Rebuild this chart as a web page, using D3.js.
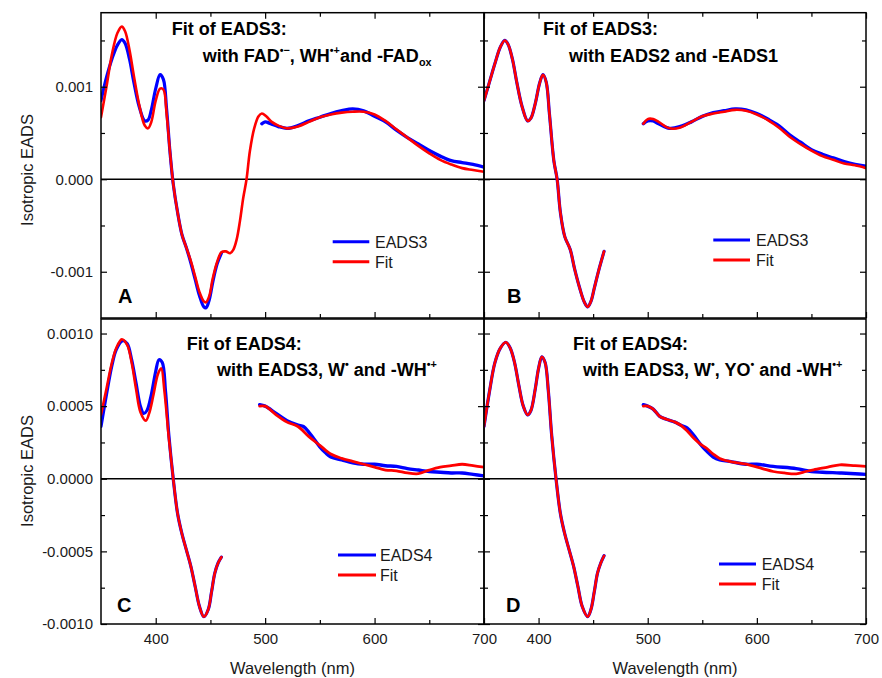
<!DOCTYPE html>
<html>
<head>
<meta charset="utf-8">
<script src="https://cdn.jsdelivr.net/npm/d3@7"></script>
<style>
  body { margin: 0; background: #fff; }
  svg { display: block; font-family: "Liberation Sans", Arial, sans-serif; }
</style>
</head>
<body>
<svg id="chart" width="882" height="678"></svg>
<script>
// ---------------- DATA ----------------
// Panel A: EADS3 (measured) and fit with FAD•−, WH•+ and -FADox
const aBlueUV = [[350,0.00085],[355,0.00110],[360,0.00130],[365,0.00145],[369,0.00151],[372,0.00147],[376,0.00130],[380,0.00105],[385,0.00078],[390,0.00063],[393,0.00064],[396,0.00075],[400,0.00098],[404,0.00113],[407,0.00108],[410,0.00075],[413,0.00030],[416,-0.00005],[420,-0.00036],[424,-0.00060],[428,-0.00074],[432,-0.00090],[436,-0.00108],[440,-0.00126],[444,-0.00138],[446,-0.00139],[449,-0.00130],[452,-0.00112],[456,-0.00092],[460,-0.00080]];
const aBlueVis = [[497,0.00060],[500,0.00062],[505,0.00060],[512,0.00057],[520,0.00055],[530,0.00058],[540,0.00063],[550,0.00067],[560,0.00071],[570,0.00074],[580,0.00076],[590,0.00074],[600,0.00068],[610,0.00062],[620,0.00053],[630,0.00045],[640,0.00038],[650,0.00031],[660,0.00025],[670,0.00020],[680,0.00018],[690,0.00016],[700,0.00013]];
const aRed = [[350,0.00067],[355,0.00100],[360,0.00135],[365,0.00158],[369,0.00165],[372,0.00160],[376,0.00140],[380,0.00112],[385,0.00080],[390,0.00058],[393,0.00055],[396,0.00062],[400,0.00085],[404,0.00098],[407,0.00097],[410,0.00070],[413,0.00030],[416,-0.00005],[420,-0.00036],[424,-0.00060],[428,-0.00074],[432,-0.00088],[436,-0.00105],[440,-0.00122],[444,-0.00132],[446,-0.00133],[449,-0.00126],[452,-0.00108],[456,-0.00090],[460,-0.00079],[464,-0.00078],[468,-0.00080],[471,-0.00076],[474,-0.00065],[477,-0.00045],[480,-0.00020],[483,0.00000],[486,0.00030],[490,0.00055],[494,0.00068],[497,0.00071],[501,0.00068],[506,0.00062],[512,0.00058],[520,0.00055],[530,0.00057],[540,0.00062],[550,0.00067],[560,0.00070],[570,0.00072],[580,0.00073],[590,0.00073],[600,0.00070],[610,0.00063],[620,0.00054],[630,0.00045],[640,0.00036],[650,0.00028],[660,0.00021],[670,0.00016],[680,0.00012],[690,0.00010],[700,0.00008]];

// Panel B: EADS3 and fit with EADS2 and -EADS1
const bUV = [[350,0.00085],[355,0.00105],[360,0.00125],[365,0.00143],[369,0.00150],[372,0.00146],[376,0.00130],[380,0.00105],[385,0.00078],[390,0.00063],[393,0.00066],[397,0.00082],[401,0.00104],[404,0.00113],[407,0.00105],[410,0.00070],[414,0.00020],[417,0.00000],[420,-0.00036],[424,-0.00062],[429,-0.00076],[433,-0.00097],[438,-0.00119],[442,-0.00133],[445,-0.00138],[448,-0.00132],[451,-0.00118],[455,-0.00099],[460,-0.00078]];
const bBlueVis = [[496,0.00060],[500,0.00063],[505,0.00063],[510,0.00060],[520,0.00055],[530,0.00057],[540,0.00062],[550,0.00068],[560,0.00072],[570,0.00074],[580,0.00076],[590,0.00075],[600,0.00071],[610,0.00065],[620,0.00058],[630,0.00048],[640,0.00040],[650,0.00032],[660,0.00027],[670,0.00023],[680,0.00019],[690,0.00016],[700,0.00014]];
const bRedVis = [[496,0.00060],[500,0.00065],[505,0.00065],[510,0.00062],[520,0.00055],[530,0.00056],[540,0.00062],[550,0.00068],[560,0.00071],[570,0.00073],[580,0.00075],[590,0.00074],[600,0.00070],[610,0.00064],[620,0.00056],[630,0.00046],[640,0.00038],[650,0.00031],[660,0.00025],[670,0.00021],[680,0.00017],[690,0.00015],[700,0.00012]];

// Panel C: EADS4 and fit with EADS3, W• and -WH•+
const cBlueUV = [[350,0.00036],[355,0.00058],[360,0.00078],[364,0.00089],[370,0.00095],[374,0.00093],[378,0.00082],[382,0.00066],[386,0.00050],[389,0.00045],[392,0.00047],[396,0.00058],[400,0.00074],[403,0.00082],[406,0.00080],[409,0.00060],[412,0.00030],[416,0.00000],[420,-0.00024],[424,-0.00038],[428,-0.00049],[432,-0.00060],[436,-0.00074],[440,-0.00088],[444,-0.00095],[448,-0.00090],[451,-0.00078],[454,-0.00065],[457,-0.00058],[460,-0.00054]];
const cRedUV = [[350,0.00044],[355,0.00062],[360,0.00080],[364,0.00090],[369,0.00096],[374,0.00092],[378,0.00080],[382,0.00062],[386,0.00046],[391,0.00040],[394,0.00045],[398,0.00058],[402,0.00072],[405,0.00076],[408,0.00060],[412,0.00028],[416,0.00000],[420,-0.00024],[424,-0.00038],[428,-0.00049],[432,-0.00060],[436,-0.00074],[440,-0.00088],[444,-0.00095],[448,-0.00090],[451,-0.00078],[454,-0.00065],[457,-0.00058],[460,-0.00054]];
const cBlueVis = [[495,0.00051],[500,0.00050],[510,0.00045],[520,0.00040],[530,0.00037],[535,0.00036],[540,0.00032],[545,0.00027],[550,0.00022],[555,0.00018],[560,0.00015],[570,0.00013],[580,0.00011],[590,0.00010],[600,0.00010],[610,0.00009],[620,0.000085],[630,0.00007],[640,0.00006],[650,0.00005],[660,0.000045],[670,0.00004],[680,0.00004],[690,0.00003],[700,0.00002]];
const cRedVis = [[495,0.00050],[500,0.00050],[510,0.00044],[520,0.00039],[530,0.00036],[540,0.00029],[550,0.00023],[560,0.00017],[570,0.00014],[580,0.00012],[590,0.00010],[600,0.00008],[610,0.00006],[620,0.000055],[630,0.00004],[640,0.000035],[650,0.00006],[660,0.00008],[670,0.00009],[680,0.00010],[690,0.00009],[700,0.00008]];

// Panel D: EADS4 and fit with EADS3, W•, YO• and -WH•+
const dUV = [[350,0.00036],[355,0.00060],[360,0.00080],[365,0.00090],[370,0.00094],[374,0.00090],[378,0.00080],[382,0.00064],[386,0.00050],[390,0.00044],[393,0.00047],[397,0.00062],[400,0.00076],[403,0.00084],[406,0.00080],[409,0.00060],[412,0.00030],[416,0.00000],[420,-0.00024],[424,-0.00038],[428,-0.00049],[432,-0.00060],[436,-0.00074],[440,-0.00088],[445,-0.00095],[448,-0.00090],[451,-0.00078],[454,-0.00065],[457,-0.00058],[460,-0.00053]];
const dBlueVis = [[496,0.00051],[500,0.00050],[505,0.00048],[511,0.00043],[517,0.00041],[525,0.00039],[530,0.00037],[536,0.00035],[542,0.00030],[548,0.00024],[554,0.00019],[560,0.00015],[566,0.00013],[575,0.00012],[590,0.00010],[600,0.00010],[615,0.000085],[636,0.00007],[650,0.00005],[660,0.000045],[676,0.00004],[690,0.000035],[700,0.00003]];
const dRedVis = [[496,0.00050],[500,0.00050],[505,0.00048],[511,0.00043],[517,0.00041],[525,0.00039],[530,0.00037],[536,0.00033],[542,0.00028],[548,0.00024],[554,0.00021],[560,0.00017],[566,0.00014],[575,0.00012],[590,0.00010],[605,0.00007],[615,0.00005],[625,0.00004],[636,0.000034],[645,0.00005],[652,0.000062],[665,0.00008],[676,0.000096],[690,0.00009],[700,0.000085]];

// Axis ticks and labels
const xDomain = [350, 700];
const xMajorTicks = [400, 500, 600, 700];
const xMinorTicks = [450, 550, 650];
const topDomain = [-0.0015, 0.0018];
const topMajorTicks = [-0.001, 0, 0.001];
const topTickLabels = ["-0.001", "0.000", "0.001"];
const topMinorTicks = [-0.0005, 0.0005, 0.0015];
const botDomain = [-0.001, 0.0011];
const botMajorTicks = [-0.001, -0.0005, 0, 0.0005, 0.001];
const botTickLabels = ["-0.0010", "-0.0005", "0.0000", "0.0005", "0.0010"];
const botMinorTicks = [-0.00075, -0.00025, 0.00025, 0.00075];

const BLUE = "#0000ff", RED = "#ff0000";

// ---------------- LAYOUT ----------------
const svg = d3.select("#chart");
const colX = [[101, 484], [484, 866]];
const rowY = [[12.7, 318], [319, 624]];

const panels = [
  { row: 0, col: 0, letter: "A", legendName: "EADS3",
    series: [{d: aBlueUV, c: BLUE, w: 3.2}, {d: aBlueVis, c: BLUE, w: 3.4}, {d: aRed, c: RED, w: 2.6}],
    title1: {x: 171.7, y: 35}, title2: {x: 202.7, y: 62, parts: [["with FAD"],["•−","sup"],[", WH"],["•+","sup"],["and -FAD"],["ox","sub"]]},
    legend: {x0: 332.7, x1: 369.3, yb: 241.7, yr: 261.7, tx: 375}, letterPos: {x: 118, y: 303}, t1: "Fit of EADS3:" },
  { row: 0, col: 1, letter: "B", legendName: "EADS3",
    series: [{d: bUV, c: BLUE, w: 3.2}, {d: bBlueVis, c: BLUE, w: 3.4}, {d: bUV, c: RED, w: 2.6}, {d: bRedVis, c: RED, w: 2.6}],
    title1: {x: 543, y: 35}, title2: {x: 569, y: 62, parts: [["with EADS2 and -EADS1"]]},
    legend: {x0: 713.3, x1: 750, yb: 240, yr: 260, tx: 756}, letterPos: {x: 507, y: 303}, t1: "Fit of EADS3:" },
  { row: 1, col: 0, letter: "C", legendName: "EADS4",
    series: [{d: cBlueUV, c: BLUE, w: 3.2}, {d: cBlueVis, c: BLUE, w: 3.4}, {d: cRedUV, c: RED, w: 2.6}, {d: cRedVis, c: RED, w: 2.8}],
    title1: {x: 186.7, y: 350}, title2: {x: 217, y: 376, parts: [["with EADS3, W"],["•","sup"],[" and -WH"],["•+","sup"]]},
    legend: {x0: 338, x1: 376, yb: 555, yr: 575, tx: 380}, letterPos: {x: 117, y: 612}, t1: "Fit of EADS4:" },
  { row: 1, col: 1, letter: "D", legendName: "EADS4",
    series: [{d: dUV, c: BLUE, w: 3.2}, {d: dBlueVis, c: BLUE, w: 3.4}, {d: dUV, c: RED, w: 2.6}, {d: dRedVis, c: RED, w: 2.8}],
    title1: {x: 573, y: 350}, title2: {x: 583, y: 376, parts: [["with EADS3, W"],["•","sup"],[", YO"],["•","sup"],[" and -WH"],["•+","sup"]]},
    legend: {x0: 719, x1: 756, yb: 564, yr: 584, tx: 761.7}, letterPos: {x: 506, y: 612}, t1: "Fit of EADS4:" }
];

const defs = svg.append("defs");

panels.forEach((p, i) => {
  const [xl, xr] = colX[p.col];
  const [yt, yb] = rowY[p.row];
  const x = d3.scaleLinear().domain(xDomain).range([xl, xr]);
  const y = d3.scaleLinear().domain(p.row === 0 ? topDomain : botDomain).range([yb, yt]);
  const g = svg.append("g");

  defs.append("clipPath").attr("id", "clip" + i)
    .append("rect").attr("x", xl).attr("y", yt).attr("width", xr - xl).attr("height", yb - yt);

  // zero line
  g.append("line").attr("x1", xl).attr("x2", xr).attr("y1", y(0)).attr("y2", y(0))
    .attr("stroke", "#000").attr("stroke-width", 1.3);

  // data lines
  const line = d3.line().x(d => x(d[0])).y(d => y(d[1])).curve(d3.curveCatmullRom.alpha(0.5));
  const dg = g.append("g").attr("clip-path", `url(#clip${i})`);
  p.series.forEach(s => {
    dg.append("path").datum(s.d).attr("d", line).attr("fill", "none")
      .attr("stroke", s.c).attr("stroke-width", s.w).attr("stroke-linejoin", "round").attr("stroke-linecap", "round");
  });

  // axes (inward ticks)
  const fontSize = 15;
  const styleAxis = (sel) => {
    sel.select(".domain").remove();
    sel.selectAll("line").attr("stroke", "#000").attr("stroke-width", 1.2);
    sel.selectAll("text").attr("font-size", fontSize).attr("fill", "#1a1a1a")
      .attr("font-family", "'Liberation Sans', Arial, sans-serif");
  };
  const majY = p.row === 0 ? topMajorTicks : botMajorTicks;
  const minY = p.row === 0 ? topMinorTicks : botMinorTicks;
  const labY = p.row === 0 ? topTickLabels : botTickLabels;

  // bottom
  g.append("g").attr("transform", `translate(0,${yb})`)
    .call(d3.axisBottom(x).tickValues(xMajorTicks).tickSize(-6).tickPadding(9)
      .tickFormat(p.row === 1 ? (d => String(d)) : () => ""))
    .call(styleAxis);
  g.append("g").attr("transform", `translate(0,${yb})`)
    .call(d3.axisBottom(x).tickValues(xMinorTicks).tickSize(-4).tickFormat(() => ""))
    .call(styleAxis);
  // top (only top row)
  if (p.row === 0) {
    g.append("g").attr("transform", `translate(0,${yt})`)
      .call(d3.axisTop(x).tickValues(xMajorTicks).tickSize(-6).tickFormat(() => ""))
      .call(styleAxis);
    g.append("g").attr("transform", `translate(0,${yt})`)
      .call(d3.axisTop(x).tickValues(xMinorTicks).tickSize(-4).tickFormat(() => ""))
      .call(styleAxis);
  }
  // left
  g.append("g").attr("transform", `translate(${xl},0)`)
    .call(d3.axisLeft(y).tickValues(majY).tickSize(-6).tickPadding(8)
      .tickFormat(p.col === 0 ? ((d, k) => labY[k]) : () => ""))
    .call(styleAxis);
  g.append("g").attr("transform", `translate(${xl},0)`)
    .call(d3.axisLeft(y).tickValues(minY).tickSize(-4).tickFormat(() => ""))
    .call(styleAxis);
  // right
  g.append("g").attr("transform", `translate(${xr},0)`)
    .call(d3.axisRight(y).tickValues(majY).tickSize(-6).tickFormat(() => ""))
    .call(styleAxis);
  g.append("g").attr("transform", `translate(${xr},0)`)
    .call(d3.axisRight(y).tickValues(minY).tickSize(-4).tickFormat(() => ""))
    .call(styleAxis);

  // frame
  g.append("rect").attr("x", xl).attr("y", yt).attr("width", xr - xl).attr("height", yb - yt)
    .attr("fill", "none").attr("stroke", "#000").attr("stroke-width", 1.5);

  // titles
  const tf = 18;
  g.append("text").attr("x", p.title1.x).attr("y", p.title1.y)
    .attr("font-size", tf).attr("font-weight", "bold").attr("fill", "#000").text(p.t1);
  const t2 = g.append("text").attr("x", p.title2.x).attr("y", p.title2.y)
    .attr("font-size", tf).attr("font-weight", "bold").attr("fill", "#000");
  p.title2.parts.forEach(part => {
    const ts = t2.append("tspan").text(part[0]);
    if (part[1] === "sup") ts.attr("font-size", tf * 0.6).attr("baseline-shift", "75%");
    if (part[1] === "sub") ts.attr("font-size", tf * 0.6).attr("baseline-shift", "-35%");
  });

  // panel letter
  g.append("text").attr("x", p.letterPos.x).attr("y", p.letterPos.y)
    .attr("font-size", 20).attr("font-weight", "bold").attr("fill", "#000").text(p.letter);

  // legend
  const L = p.legend;
  [[L.yb, BLUE, p.legendName], [L.yr, RED, "Fit"]].forEach(([ly, c, name]) => {
    g.append("line").attr("x1", L.x0).attr("x2", L.x1).attr("y1", ly).attr("y2", ly)
      .attr("stroke", c).attr("stroke-width", 3);
    g.append("text").attr("x", L.tx).attr("y", ly + 5.8).attr("font-size", 16)
      .attr("fill", "#1a1a1a").text(name);
  });
});

// axis titles
[170, 471].forEach(cy => {
  svg.append("text").attr("transform", `translate(33,${cy}) rotate(-90)`)
    .attr("text-anchor", "middle").attr("font-size", 16.5).attr("fill", "#1a1a1a").text("Isotropic EADS");
});
[292.5, 675].forEach(cx => {
  svg.append("text").attr("x", cx).attr("y", 674).attr("text-anchor", "middle")
    .attr("font-size", 16.5).attr("fill", "#1a1a1a").text("Wavelength (nm)");
});
</script>
</body>
</html>
